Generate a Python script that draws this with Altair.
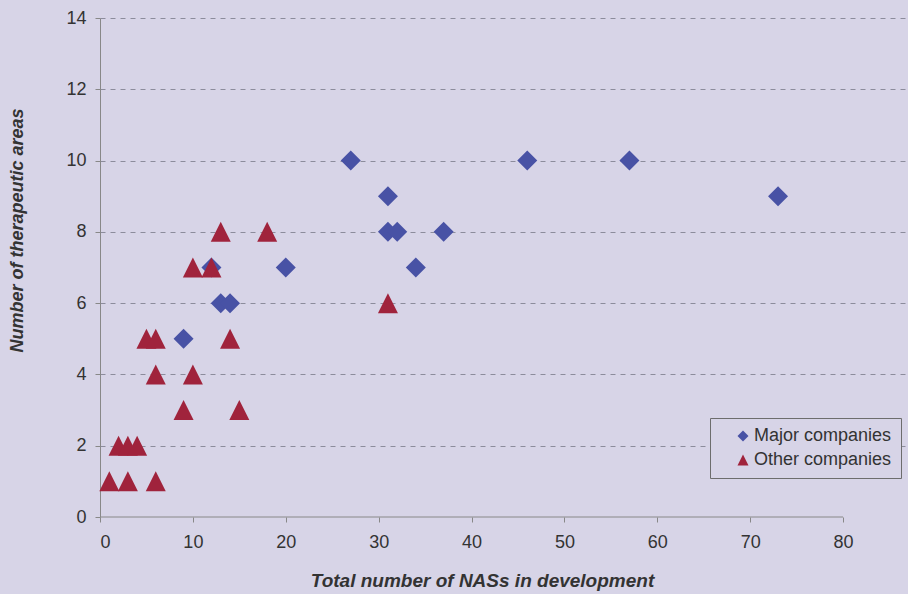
import altair as alt
import pandas as pd

# Major companies (diamonds)
major_nas = [27, 46, 57, 73, 31, 31, 32, 37, 34, 20, 12, 13, 14, 9]
major_areas = [10, 10, 10, 9, 9, 8, 8, 8, 7, 7, 7, 6, 6, 5]

# Other companies (triangles)
other_nas = [13, 18, 10, 12, 31, 5, 6, 14, 6, 10, 9, 15, 2, 3, 4, 1, 3, 6]
other_areas = [8, 8, 7, 7, 6, 5, 5, 5, 4, 4, 3, 3, 2, 2, 2, 1, 1, 1]

groups = ["Major companies", "Other companies"]
x_ticks = [0, 10, 20, 30, 40, 50, 60, 70, 80]
y_ticks = [0, 2, 4, 6, 8, 10, 12, 14]

df = pd.DataFrame({
    "nas": major_nas + other_nas,
    "areas": major_areas + other_areas,
    "group": [groups[0]] * len(major_nas) + [groups[1]] * len(other_nas),
})
axis_line = pd.DataFrame({"nas": [x_ticks[0]], "nas_end": [x_ticks[-1]], "areas": [0]})

BG = "#d7d4e7"
FONT = "Liberation Sans"
TEXT = "#333333"
DIAMOND = "M0,-1L1,0L0,1L-1,0Z"
TRIANGLE = "M0,-1L1,1L-1,1Z"

# the plot area runs a little past the last x tick so the gridlines extend right
x_scale = alt.Scale(domain=[0, 86.67], nice=False, zero=False)
y_scale = alt.Scale(domain=[0, 14], nice=False)

x_axis = alt.Axis(
    values=x_ticks, grid=False, domain=False, tickColor="#888888", tickSize=5,
    labelFont=FONT, labelFontSize=18, labelColor=TEXT, labelPadding=11,
    title="Total number of NASs in development", titleFont=FONT,
    titleFontSize=19, titleFontWeight="bold", titleFontStyle="italic",
    titleColor=TEXT, titleX=382, titleY=63, titleAlign="center",
    titleBaseline="middle", titleAnchor="start",
)
y_axis = alt.Axis(
    values=y_ticks, grid=True, gridColor="#8c8c9c", gridDash=[5, 5], gridWidth=1,
    gridOpacity=alt.condition("datum.value === 0", alt.value(0), alt.value(1)),
    domainColor="#888888", tickColor="#888888", tickSize=5,
    labelFont=FONT, labelFontSize=18, labelColor=TEXT, labelPadding=9,
    title="Number of therapeutic areas", titleFont=FONT,
    titleFontSize=18, titleFontWeight="bold", titleFontStyle="italic",
    titleColor=TEXT, titleX=-83, titleY=212, titleAlign="center",
    titleBaseline="middle", titleAnchor="start",
)

baseline = alt.Chart(axis_line).mark_rule(color="#888888", strokeWidth=1).encode(
    x=alt.X("nas:Q", scale=x_scale, axis=x_axis),
    x2="nas_end:Q",
    y=alt.Y("areas:Q", scale=y_scale, axis=y_axis),
)

points = alt.Chart(df).mark_point(filled=True, opacity=1, size=400).encode(
    x=alt.X("nas:Q", scale=x_scale, axis=x_axis),
    y=alt.Y("areas:Q", scale=y_scale, axis=y_axis),
    color=alt.Color(
        "group:N",
        scale=alt.Scale(domain=groups, range=["#4852a5", "#a0233c"]),
        legend=alt.Legend(title=None),
    ),
    shape=alt.Shape(
        "group:N",
        scale=alt.Scale(domain=groups, range=[DIAMOND, TRIANGLE]),
        legend=alt.Legend(title=None),
    ),
    order=alt.Order("group:N"),
)

chart = (
    alt.layer(baseline, points)
    .properties(
        width=805, height=499, background=BG,
        autosize=alt.AutoSizeParams(type="none"),
        padding={"left": 100, "top": 18, "right": 3, "bottom": 77},
    )
    .configure_view(stroke=None, fill=BG)
    .configure_legend(
        orient="none", legendX=610, legendY=400, padding=9,
        strokeColor="#6d6d6d", strokeWidth=1, fillColor=BG,
        labelFont=FONT, labelFontSize=18, labelColor=TEXT,
        symbolSize=120, rowPadding=6, symbolOffset=15, labelOffset=2,
        cornerRadius=0,
    )
)

chart.save("out.html", embed_options={"renderer": "svg", "actions": False})
